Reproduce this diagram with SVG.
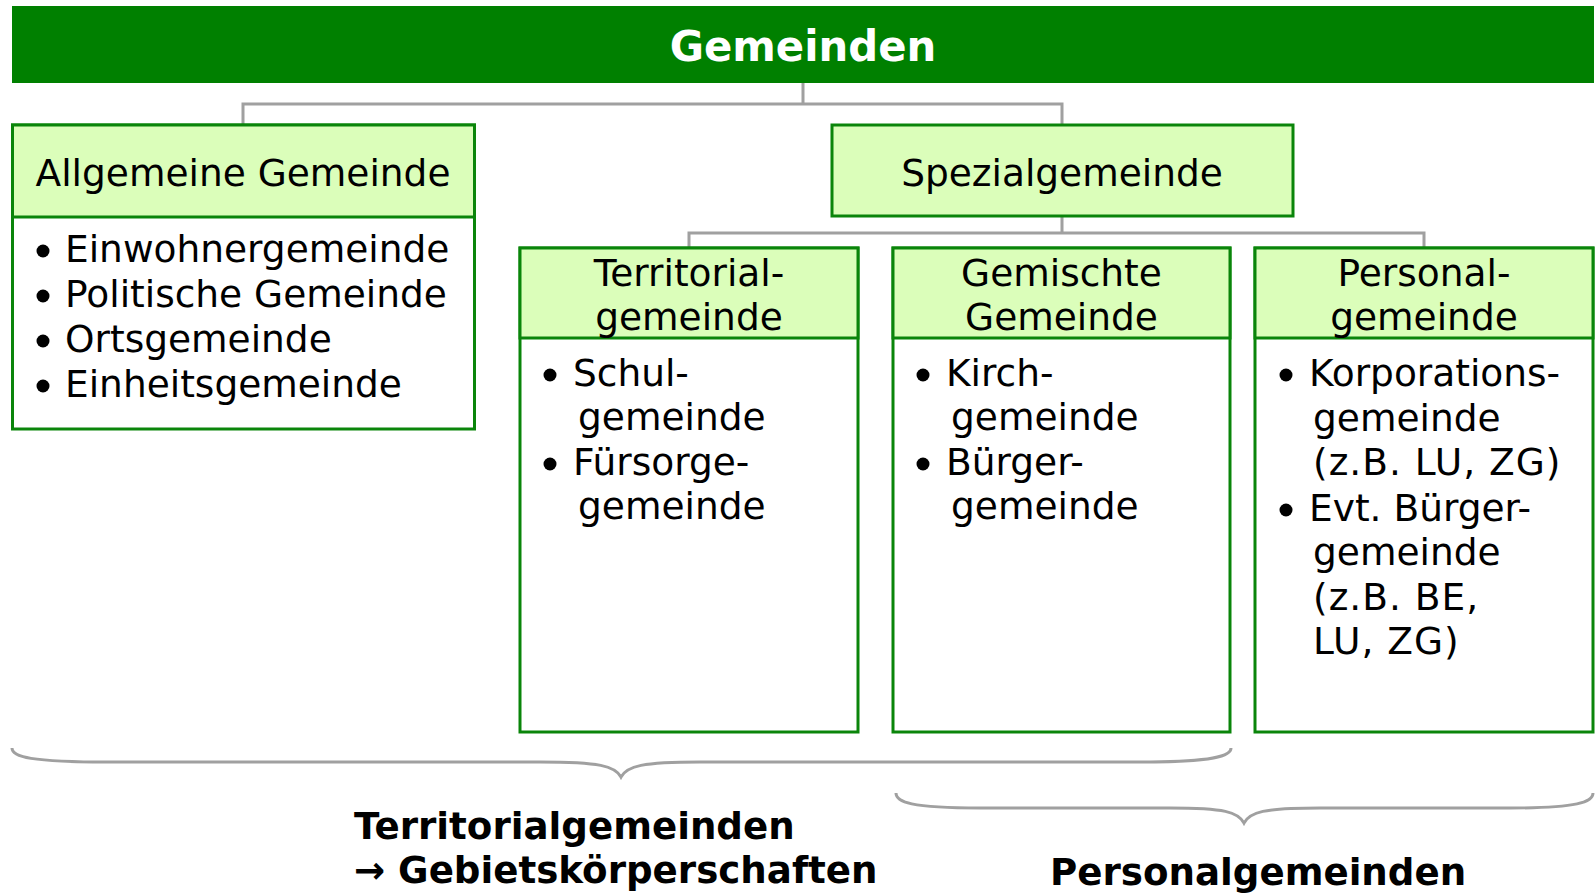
<svg xmlns="http://www.w3.org/2000/svg" width="1595" height="893" viewBox="0 0 1595 893">
<style>
.hdr{fill:#DBFEBA;stroke:#0A850A;stroke-width:3}
.body{fill:#FFFFFF;stroke:#0A850A;stroke-width:3}
.t{font-family:"DejaVu Sans",Verdana,sans-serif;font-size:37.5px;fill:#000}
.c{text-anchor:middle}
.p{letter-spacing:1px}
.b{font-family:"DejaVu Sans",Verdana,sans-serif;font-weight:bold;fill:#000;font-size:37.2px}
.conn{fill:none;stroke:#A0A0A0;stroke-width:3}
.brace{fill:none;stroke:#A0A0A0;stroke-width:3}
.dot{fill:#000}
</style>
<rect width="1595" height="893" fill="#FFFFFF"/>
<g id="connectors">
<path class="conn" d="M803,83 V104 M243,125 V104 H1062 V125"/>
<path class="conn" d="M1062,216 V233 M689,248 V233 H1424 V248"/>
</g>
<g id="gemeinden">
<rect x="12" y="6" width="1582" height="77" fill="#008000"/>
<text x="803" y="61" class="c" style="font-family:'DejaVu Sans',Verdana,sans-serif;font-weight:bold;font-size:41.8px;fill:#FFFFFF">Gemeinden</text>
</g>
<g id="allgemeine">
<rect class="body" x="12.5" y="125" width="462" height="304"/>
<rect class="hdr" x="12.5" y="125" width="462" height="92"/>
<text class="t c" x="243" y="186">Allgemeine Gemeinde</text>
<circle class="dot" cx="43" cy="251" r="6.5"/>
<circle class="dot" cx="43" cy="296" r="6.5"/>
<circle class="dot" cx="43" cy="341" r="6.5"/>
<circle class="dot" cx="43" cy="386" r="6.5"/>
<text class="t" x="65" y="262">Einwohnergemeinde</text>
<text class="t" x="65" y="307">Politische Gemeinde</text>
<text class="t" x="65" y="352">Ortsgemeinde</text>
<text class="t" x="65" y="397">Einheitsgemeinde</text>
</g>
<g id="spezial">
<rect class="hdr" x="832" y="125" width="461" height="91"/>
<text class="t c" x="1062" y="186">Spezialgemeinde</text>
</g>
<g id="territorial">
<rect class="body" x="520" y="248" width="338" height="484"/>
<rect class="hdr" x="520" y="248" width="338" height="90"/>
<text class="t c" x="689" y="286">Territorial-</text>
<text class="t c" x="689" y="330">gemeinde</text>
<circle class="dot" cx="550" cy="375" r="6.5"/>
<circle class="dot" cx="550" cy="464" r="6.5"/>
<text class="t" x="573" y="386">Schul-</text>
<text class="t" x="578" y="430">gemeinde</text>
<text class="t" x="573" y="475">Fürsorge-</text>
<text class="t" x="578" y="519">gemeinde</text>
</g>
<g id="gemischte">
<rect class="body" x="893" y="248" width="337" height="484"/>
<rect class="hdr" x="893" y="248" width="337" height="90"/>
<text class="t c" x="1061.5" y="286">Gemischte</text>
<text class="t c" x="1061.5" y="330">Gemeinde</text>
<circle class="dot" cx="923" cy="375" r="6.5"/>
<circle class="dot" cx="923" cy="464" r="6.5"/>
<text class="t" x="946" y="386">Kirch-</text>
<text class="t" x="951" y="430">gemeinde</text>
<text class="t" x="946" y="475">Bürger-</text>
<text class="t" x="951" y="519">gemeinde</text>
</g>
<g id="personal">
<rect class="body" x="1255" y="248" width="338" height="484"/>
<rect class="hdr" x="1255" y="248" width="338" height="90"/>
<text class="t c" x="1424" y="286">Personal-</text>
<text class="t c" x="1424" y="330">gemeinde</text>
<circle class="dot" cx="1286" cy="375" r="6.5"/>
<circle class="dot" cx="1286" cy="510" r="6.5"/>
<text class="t" x="1309" y="386">Korporations-</text>
<text class="t" x="1313" y="431">gemeinde</text>
<text class="t p" x="1313" y="475">(z.B. LU, ZG)</text>
<text class="t" x="1309" y="521">Evt. Bürger-</text>
<text class="t" x="1313" y="565">gemeinde</text>
<text class="t p" x="1313" y="610">(z.B. BE,</text>
<text class="t p" x="1313" y="654">LU, ZG)</text>
</g>
<g id="brace-territorial">
<path class="brace" d="M12,748 C12,757 30,762 110,762 L540,762 C600,762 615,766 621,777 C627,766 642,762 700,762 L1140,762 C1215,762 1231,756 1231,748"/>
<text class="b" x="354" y="839">Territorialgemeinden</text>
<text class="b" x="354" y="883">→ Gebietskörperschaften</text>
</g>
<g id="brace-personal">
<path class="brace" d="M896,793 C896,802 910,808 980,808 L1170,808 C1225,808 1238,812 1244,823 C1250,812 1263,808 1320,808 L1510,808 C1578,808 1593,802 1593,793"/>
<text class="b" x="1050" y="885">Personalgemeinden</text>
</g>
</svg>
